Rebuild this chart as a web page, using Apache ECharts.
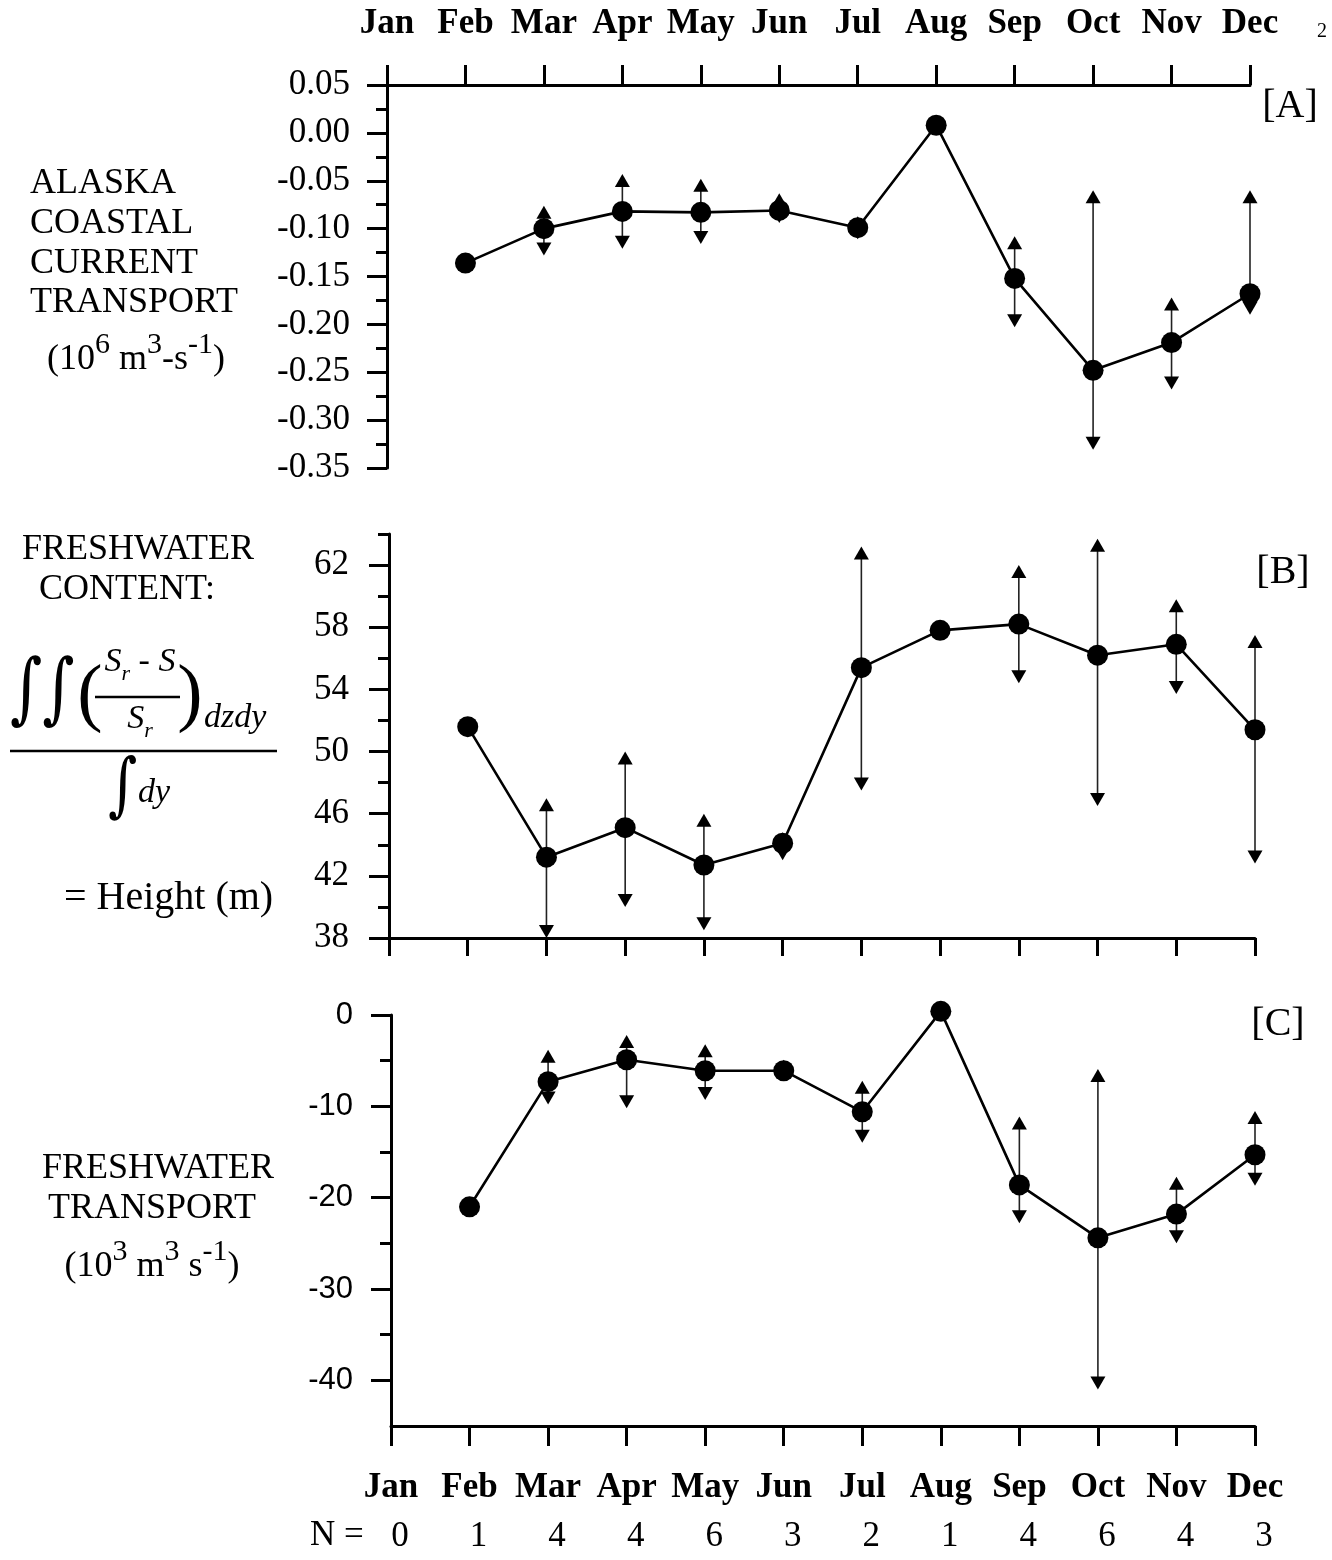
<!DOCTYPE html>
<html>
<head>
<meta charset="utf-8">
<script src="https://cdn.jsdelivr.net/npm/echarts@6/dist/echarts.min.js"></script>
<style>
  html, body { margin: 0; padding: 0; background: #fff; }
  #main { width: 1332px; height: 1560px; }
</style>
</head>
<body>
<div id="main"></div>
<script>
// month axis, shared by the three panels (Jan = 0 ... Dec = 11)
const months = ['Jan', 'Feb', 'Mar', 'Apr', 'May', 'Jun', 'Jul', 'Aug', 'Sep', 'Oct', 'Nov', 'Dec'];
const nCounts = [0, 1, 4, 4, 6, 3, 2, 1, 4, 6, 4, 3];

// [A] Alaska Coastal Current transport (10^6 m3 s-1)
const accMean = [null, -0.136, -0.100, -0.082, -0.083, -0.081, -0.099, 0.008, -0.152, -0.248, -0.219, -0.168];
const accLow  = [null, null, -0.128, -0.121, -0.116, -0.094, -0.111, null, -0.203, -0.331, -0.268, -0.190];
const accHigh = [null, null, -0.076, -0.043, -0.048, -0.063, -0.087, null, -0.108, -0.060, -0.172, -0.060];
const accTicks = [0.05, 0.00, -0.05, -0.10, -0.15, -0.20, -0.25, -0.30, -0.35];
const accMinor = [0.025, -0.025, -0.075, -0.125, -0.175, -0.225, -0.275, -0.325];

// [B] freshwater content, height (m)
const fwcMean = [null, 51.6, 43.2, 45.1, 42.7, 44.1, 55.4, 57.8, 58.2, 56.2, 56.9, 51.4];
const fwcLow  = [null, null, 38.0, 40.0, 38.5, 43.0, 47.5, null, 54.4, 46.5, 53.7, 42.8];
const fwcHigh = [null, null, 47.0, 50.0, 46.0, 44.8, 63.2, null, 62.0, 63.7, 59.8, 57.5];
const fwcTicks = [62, 58, 54, 50, 46, 42, 38];
const fwcMinor = [64, 60, 56, 52, 48, 44, 40];

// [C] freshwater transport (10^3 m3 s-1)
const fwtMean = [null, -21.0, -7.3, -4.9, -6.1, -6.1, -10.6, 0.4, -18.6, -24.4, -21.8, -15.3];
const fwtLow  = [null, null, -9.8, -10.2, -9.3, -7.2, -14.0, null, -22.8, -41.0, -25.0, -18.7];
const fwtHigh = [null, null, -3.8, -2.2, -3.2, -4.9, -7.2, null, -11.1, -5.9, -17.7, -10.5];
const fwtTicks = [0, -10, -20, -30, -40];
const fwtMinor = [-5, -15, -25, -35];

const SERIF = 'Liberation Serif';
const SANS = 'Liberation Sans';

function pts(arr) {
  return arr.map((v, i) => [i, v]).filter(d => d[1] !== null);
}
function bars(lo, hi) {
  const out = [];
  lo.forEach((v, i) => { if (v !== null && hi[i] !== null) out.push([i, v, hi[i]]); });
  return out;
}

function xAxis(grid, pos, tickLen, labels) {
  return {
    type: 'value', gridIndex: grid, position: pos, min: 0, max: 11, interval: 1,
    axisLine: { show: true, onZero: false, lineStyle: { color: '#000', width: 3 } },
    axisTick: { show: true, length: tickLen, lineStyle: { color: '#000', width: 3 } },
    axisLabel: labels ? {
      show: true, margin: 44, showMinLabel: true, showMaxLabel: true, hideOverlap: false,
      formatter: v => months[v], color: '#000', fontFamily: SERIF, fontWeight: 'bold', fontSize: 35
    } : { show: false },
    splitLine: { show: false }
  };
}

function yMain(grid, min, max, ticks, fmt, family, size, margin) {
  return {
    type: 'value', gridIndex: grid, position: 'left', min: min, max: max,
    axisLine: { show: true, onZero: false, lineStyle: { color: '#000', width: 3 } },
    axisTick: { show: true, length: 20, customValues: ticks, lineStyle: { color: '#000', width: 3 } },
    axisLabel: {
      show: true, customValues: ticks, formatter: fmt, margin: margin,
      color: '#000', fontFamily: family, fontSize: size
    },
    splitLine: { show: false }
  };
}

function yMinor(grid, min, max, vals) {
  return {
    type: 'value', gridIndex: grid, position: 'left', min: min, max: max,
    axisLine: { show: false, onZero: false },
    axisTick: { show: true, length: 11, customValues: vals, lineStyle: { color: '#000', width: 3 } },
    axisLabel: { show: false, customValues: vals },
    splitLine: { show: false }
  };
}

function errorSeries(xi, yi, data) {
  return {
    type: 'custom', xAxisIndex: xi, yAxisIndex: yi, z: 2, clip: false,
    data: data,
    encode: { x: 0, y: [1, 2] },
    renderItem: function (params, api) {
      const lo = api.coord([api.value(0), api.value(1)]);
      const hi = api.coord([api.value(0), api.value(2)]);
      const w = 7.5, h = 13;
      return {
        type: 'group',
        children: [
          { type: 'line', shape: { x1: hi[0], y1: hi[1] + 4, x2: lo[0], y2: lo[1] - 4 },
            style: { stroke: '#222', lineWidth: 1.6 } },
          { type: 'polygon', shape: { points: [[hi[0], hi[1]], [hi[0] - w, hi[1] + h], [hi[0] + w, hi[1] + h]] },
            style: { fill: '#000' } },
          { type: 'polygon', shape: { points: [[lo[0], lo[1]], [lo[0] - w, lo[1] - h], [lo[0] + w, lo[1] - h]] },
            style: { fill: '#000' } }
        ]
      };
    }
  };
}

function lineSeries(xi, yi, data) {
  return {
    type: 'line', xAxisIndex: xi, yAxisIndex: yi, z: 3, clip: false,
    data: data, symbol: 'circle', symbolSize: 21,
    itemStyle: { color: '#000' },
    lineStyle: { color: '#000', width: 2.6 }
  };
}

function txt(x, y, text, font, align, extra) {
  return Object.assign({
    type: 'text', x: x, y: y, silent: true,
    style: { text: text, font: font, fill: '#000', textAlign: align || 'left', textVerticalAlign: 'middle' }
  }, extra || {});
}
function unitText(x, y, parts) {
  // parts: [[text, isSup], ...]
  const s = parts.map(p => (p[1] ? '{s|' : '{n|') + p[0] + '}').join('');
  return {
    type: 'text', x: x, y: y, silent: true,
    style: {
      text: s, fill: '#000', textAlign: 'center', textVerticalAlign: 'middle',
      rich: {
        n: { fontFamily: SERIF, fontSize: 36, lineHeight: 48, verticalAlign: 'bottom' },
        s: { fontFamily: SERIF, fontSize: 30, lineHeight: 30, verticalAlign: 'top' }
      }
    }
  };
}
function hline(x1, x2, y, w) {
  return { type: 'line', silent: true, shape: { x1: x1, y1: y, x2: x2, y2: y }, style: { stroke: '#000', lineWidth: w } };
}

const F36 = '36px "Liberation Serif"';
const graphics = [
  // page number
  txt(1322, 32, '2', '20px "Liberation Serif"', 'center'),
  // panel tags
  txt(1290, 106, '[A]', '40px "Liberation Serif"', 'center'),
  txt(1283, 572, '[B]', '40px "Liberation Serif"', 'center'),
  txt(1278, 1024, '[C]', '40px "Liberation Serif"', 'center'),
  // panel A title
  txt(30, 184, 'ALASKA', F36),
  txt(30, 224, 'COASTAL', F36),
  txt(30, 264, 'CURRENT', F36),
  txt(30, 303, 'TRANSPORT', F36),
  unitText(136, 354, [['(10', 0], ['6', 1], [' m', 0], ['3', 1], ['-s', 0], ['-1', 1], [')', 0]]),
  // panel B title and formula
  txt(138, 550, 'FRESHWATER', F36, 'center'),
  txt(127, 590, 'CONTENT:', F36, 'center'),
  txt(10, 694, '\u222B\u222B', '62px "DejaVu Serif"', 'left', { scaleY: 1.25 }),
  txt(90, 697, '(', '76px "Liberation Serif"', 'center'),
  txt(190, 697, ')', '76px "Liberation Serif"', 'center'),
  {
    type: 'text', x: 140, y: 665, silent: true,
    style: {
      text: '{i|S}{b|r}{n| - }{i|S}', textAlign: 'center', textVerticalAlign: 'middle', fill: '#000',
      rich: {
        i: { fontFamily: SERIF, fontStyle: 'italic', fontSize: 34, lineHeight: 40, verticalAlign: 'top' },
        b: { fontFamily: SERIF, fontStyle: 'italic', fontSize: 22, lineHeight: 30, verticalAlign: 'bottom' },
        n: { fontFamily: SERIF, fontSize: 34, lineHeight: 40, verticalAlign: 'top' }
      }
    }
  },
  hline(95, 180, 697, 2.5),
  {
    type: 'text', x: 140, y: 722, silent: true,
    style: {
      text: '{i|S}{b|r}', textAlign: 'center', textVerticalAlign: 'middle', fill: '#000',
      rich: {
        i: { fontFamily: SERIF, fontStyle: 'italic', fontSize: 34, lineHeight: 40, verticalAlign: 'top' },
        b: { fontFamily: SERIF, fontStyle: 'italic', fontSize: 22, lineHeight: 30, verticalAlign: 'bottom' }
      }
    }
  },
  txt(204, 718, 'dzdy', 'italic 34px "Liberation Serif"'),
  hline(10, 277, 751, 2.5),
  txt(108, 790, '\u222B', '56px "DejaVu Serif"', 'left', { scaleY: 1.25 }),
  txt(138, 793, 'dy', 'italic 34px "Liberation Serif"'),
  txt(64, 898, '= Height (m)', '40px "Liberation Serif"'),
  // panel C title
  txt(158, 1169, 'FRESHWATER', F36, 'center'),
  txt(152, 1209, 'TRANSPORT', F36, 'center'),
  unitText(152, 1261, [['(10', 0], ['3', 1], [' m', 0], ['3', 1], [' s', 0], ['-1', 1], [')', 0]]),
  // N row caption
  txt(310, 1536, 'N =', '35px "Liberation Serif"')
];

const chart = echarts.init(document.getElementById('main'));

chart.setOption({
  animation: false,
  backgroundColor: '#fff',
  grid: [
    { left: 387, top: 85, width: 863, height: 383, outerBoundsMode: 'none' },
    { left: 389, top: 534, width: 866, height: 404, outerBoundsMode: 'none' },
    { left: 391, top: 1015, width: 864, height: 411, outerBoundsMode: 'none' }
  ],
  xAxis: [
    xAxis(0, 'top', 20, true),
    xAxis(1, 'bottom', 18, false),
    xAxis(2, 'bottom', 20, true),
    {
      type: 'value', gridIndex: 2, position: 'bottom', min: 0, max: 11, interval: 1,
      axisLine: { show: false, onZero: false }, axisTick: { show: false }, splitLine: { show: false },
      axisLabel: {
        show: true, margin: 93, showMinLabel: true, showMaxLabel: true, hideOverlap: false,
        padding: [0, 0, 0, 18],
        formatter: v => String(nCounts[v]), color: '#000', fontFamily: SERIF, fontSize: 35
      }
    }
  ],
  yAxis: [
    yMain(0, -0.35, 0.05, accTicks, v => v.toFixed(2), SERIF, 35, 37),
    yMinor(0, -0.35, 0.05, accMinor),
    yMain(1, 38, 64, fwcTicks, v => String(v), SERIF, 35, 40),
    yMinor(1, 38, 64, fwcMinor),
    yMain(2, -45, 0, fwtTicks, v => String(v), SANS, 31, 38),
    yMinor(2, -45, 0, fwtMinor)
  ],
  series: [
    errorSeries(0, 0, bars(accLow, accHigh)),
    lineSeries(0, 0, pts(accMean)),
    errorSeries(1, 2, bars(fwcLow, fwcHigh)),
    lineSeries(1, 2, pts(fwcMean)),
    errorSeries(2, 4, bars(fwtLow, fwtHigh)),
    lineSeries(2, 4, pts(fwtMean))
  ],
  graphic: graphics
});
</script>
</body>
</html>
